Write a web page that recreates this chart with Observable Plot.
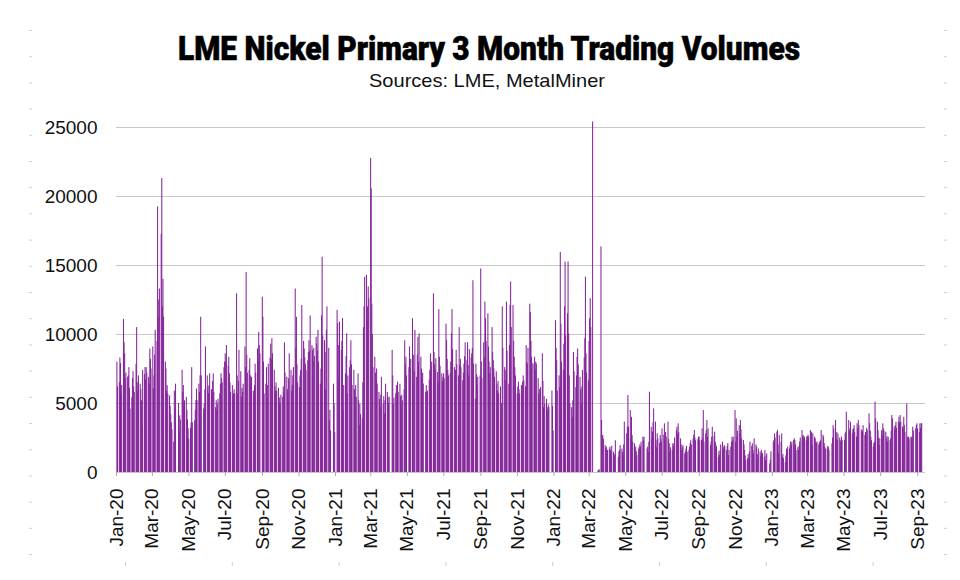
<!DOCTYPE html>
<html>
<head>
<meta charset="utf-8">
<script src="https://cdn.jsdelivr.net/npm/d3@7"></script>
<script src="https://cdn.jsdelivr.net/npm/@observablehq/plot@0.6"></script>
<style>
  html, body { margin: 0; padding: 0; background: #fff; }
  body { width: 960px; height: 580px; overflow: hidden; position: relative; font-family: "Liberation Sans", Arial, sans-serif; }
  #deco { position: absolute; left: 0; top: 0; }
  #chart { position: absolute; left: 0; top: 100px; }
</style>
</head>
<body>
<svg id="deco" width="960" height="580"></svg>
<div id="chart"></div>
<script>
// ---- Data: daily LME nickel 3M volumes (lots), one array per month ----
const vol2020 = [
  [8000, 6200, 6500, 8300, 7900, 5700, 6300, 11100, 9400, 8600, 6800, 7200, 6900, 7000, 7600, 6100, 4600, 5400, 6800, 7300, 6200, 5800],
  [7850, 10500, 6500, 5900, 7000, 6400, 6000, 5200, 3300, 7400, 7100, 7600, 6700, 7600, 7200, 6900, 6400, 8950, 8200, 7500],
  [9100, 6050, 7000, 8500, 10300, 9500, 19250, 11250, 12500, 13300, 17250, 21300, 12000, 14000, 11250, 8000, 7500, 5900, 6300, 5700, 5550, 4800],
  [4200, 3600, 3100, 2200, 5900, 4700, 6400, 5000, 3000, 4100, 3800, 7400, 5800, 6300, 4900, 5200, 5450, 4500, 3800, 3150],
  [2400, 3200, 3600, 7600, 3600, 3750, 4500, 5200, 6050, 5200, 6400, 5800, 7000, 11250, 7000, 4600, 4950, 6000, 9100],
  [7000, 6200, 5700, 6300, 7150, 6000, 5700, 6600, 7150, 5800, 4700, 5200, 4500, 4950, 5300, 5700, 6400, 7150, 6800, 6500, 7600, 8000],
  [8600, 8000, 9200, 7700, 8350, 7150, 6500, 5800, 6300, 5550, 5700, 6000, 5700, 12950, 7000, 5700, 6600, 8850, 7300, 5450, 6100, 5800, 6400],
  [9100, 7600, 14500, 8500, 7200, 7400, 8250, 7000, 6400, 6900, 5900, 5450, 6300, 7850, 7200, 8950, 8000, 10150, 9200, 8600],
  [12700, 11250, 8000, 5700, 6400, 7600, 5450, 6300, 7850, 8300, 9300, 8200, 9700, 8600, 7400, 6200, 5900, 6500, 5900, 6100, 5000, 5400],
  [4950, 5600, 5450, 6200, 5800, 9400, 7200, 6900, 6000, 5200, 6800, 8600, 7400, 5900, 6300, 7000, 7600, 13300, 9000, 11250, 7800, 6500],
  [6150, 7000, 7400, 8200, 12100, 9500, 8950, 8300, 7850, 7400, 8100, 8700, 9550, 8800, 11350, 9200, 8850, 8000, 9000, 8400, 9800],
  [9300, 8800, 10300, 8000, 6400, 7500, 11350, 15600, 9900, 9550, 8700, 6000, 10300, 12000, 9000, 3750, 4500, 3000, 6400, 5000, 2900]
];
const vol2021 = [
  [11750, 10800, 9200, 6650, 10900, 8850, 9500, 11150, 4500, 6300, 7150, 8400, 10050, 5700, 7000, 7600, 8100, 9550, 7800, 6300],
  [7400, 6000, 5450, 6300, 5450, 7150, 5200, 3400, 4950, 4200, 3900, 6500, 10500, 12000, 14150, 14300, 11000, 12000, 13450, 12600],
  [22750, 20550, 12200, 10000, 7600, 8350, 7200, 6650, 7500, 6400, 5800, 5300, 4700, 5600, 6900, 4950, 5500, 4250, 5200, 6400, 5800, 5450, 5000],
  [5450, 8850, 7000, 4950, 5400, 5700, 6300, 5900, 6550, 5800, 6400, 5500, 4950, 5600, 5200, 6000, 9550, 7800, 8350, 7000],
  [7600, 9100, 7500, 8200, 11150, 6400, 8500, 7300, 10300, 6900, 8500, 9800, 8000, 10050, 8350, 7500, 6800, 7200, 6400],
  [5800, 6300, 5800, 5900, 6700, 7400, 8600, 7600, 8000, 12950, 8700, 7800, 7400, 8250, 7250, 6500, 11800, 8350, 7700, 7150, 6600, 6900],
  [7150, 6800, 10750, 9550, 8200, 7400, 7000, 7150, 8000, 10050, 11800, 8900, 7600, 6900, 7400, 8850, 7800, 7000, 10500, 7750, 8200, 7600],
  [6650, 7200, 7850, 8400, 9400, 8100, 9400, 7750, 7000, 8900, 8300, 8600, 9000, 13900, 7850, 5300, 7850, 7100, 6300, 6900, 7000],
  [14750, 8000, 6800, 9400, 8300, 12350, 11150, 9500, 11500, 9100, 8000, 7150, 7600, 10500, 8700, 8100, 7500, 6900, 7300, 6400, 5900, 6600],
  [5700, 6200, 3650, 5000, 12000, 9000, 7600, 6650, 7400, 12350, 8800, 6400, 9200, 12100, 13800, 10500, 12100, 9500, 8350, 7600, 7000],
  [5700, 6200, 6550, 6000, 5700, 6300, 5900, 6550, 7000, 6650, 6200, 9200, 8000, 7850, 9000, 12200, 11600, 9500, 8350, 7900, 7850, 8350],
  [7400, 8000, 7850, 6800, 5700, 6000, 5200, 6150, 8600, 6600, 4700, 5500, 4950, 5300, 4700, 4500, 4900, 4700, 5900, 4800, 3000]
];
const vol2022 = [
  [11000, 9000, 8100, 5900, 7000, 6150, 15950, 10750, 8000, 7400, 9300, 12000, 15250, 9900, 11500, 15250, 10050, 7000, 4950, 4700],
  [4000, 5200, 8700, 7300, 6150, 7000, 8350, 8950, 7800, 6900, 6000, 4950, 6200, 7400, 8300, 9700, 14150, 8600, 7200, 6650],
  [9500, 11150, 12600, 10500, 25400, 0, 0, 0, 0, 0, 0, 120, 150, 200, 16350, 3770, 2680, 2650, 2400, 1950, 1700, 1840, 1600],
  [1600, 1700, 1840, 1600, 1470, 1900, 1470, 1100, 1300, 2300, 1100, 1500, 1600, 1950, 1700, 1470, 1200, 2000, 3650],
  [2800, 3300, 5580, 3280, 4490, 2440, 4000, 2680, 2200, 2080, 1600, 1840, 1500, 1230, 1700, 1840, 2000, 1840, 2200, 2560, 2300],
  [2560, 1700, 1840, 1470, 2200, 5820, 3280, 2440, 2920, 3600, 4610, 3650, 2300, 1800, 2800, 2440, 2100, 2680, 2400, 2200],
  [3160, 2700, 3530, 2300, 2900, 2560, 3650, 2400, 2080, 1470, 1800, 1600, 2080, 1900, 2080, 2500, 3040, 3280, 2800, 3530, 2900],
  [2440, 2000, 1600, 1800, 1950, 1350, 1500, 1700, 1900, 1470, 1600, 1840, 2100, 2300, 2000, 2440, 2700, 3040, 2500, 2300, 2400, 2560],
  [2560, 2300, 2320, 3160, 2440, 4490, 2200, 2800, 3040, 3770, 2560, 3160, 1950, 2200, 2560, 3280, 2600, 2920, 2200, 2000, 1840],
  [1100, 1500, 1230, 1600, 2000, 2200, 1840, 1700, 1950, 1840, 1600, 1900, 2100, 1230, 1600, 1840, 2200, 2560, 2300, 2560, 4490],
  [2200, 3890, 2560, 3000, 3400, 2800, 3770, 3100, 2440, 2320, 2000, 1600, 1200, 870, 990, 1300, 990, 1500, 2200, 1900, 2080, 1600],
  [1350, 2440, 2000, 1840, 990, 1300, 1700, 1470, 1200, 1600, 1400, 1350, 1100, 1600, 870, 1200, 1350, 630, 900, 1500]
];
const vol2023 = [
  [2200, 2320, 2800, 2500, 2920, 3040, 2000, 1350, 2680, 2200, 2800, 1100, 1300, 1000, 750, 1200, 1700, 1500, 1840, 1700, 1950],
  [2200, 2000, 2200, 2300, 2440, 2320, 2000, 1600, 1800, 1600, 1900, 2200, 2500, 3040, 2600, 2680, 2400, 2560, 2300, 2600],
  [2560, 2700, 2560, 3040, 2800, 2920, 1950, 2800, 2560, 2440, 2200, 2080, 2200, 2000, 2200, 2080, 2300, 3040, 2700, 2560, 2100, 1840, 1700],
  [1700, 1900, 1800, 1600, 2080, 2500, 3400, 3160, 3770, 2440, 2900, 2320, 2800, 2500, 2200, 2320, 2560, 2320],
  [2320, 2800, 2920, 4370, 3770, 3000, 3160, 3650, 2800, 3100, 3160, 3400, 2900, 2560, 3530, 3200, 3770, 3400, 3100, 2900],
  [3000, 3400, 2680, 2900, 2560, 3200, 3040, 4250, 3530, 3000, 2560, 2300, 1840, 2100, 2200, 5100, 3900, 3650, 3040, 2500, 1950, 2440],
  [3040, 2700, 3530, 3160, 3000, 2920, 2440, 2600, 2200, 2560, 2300, 2440, 3000, 4130, 3890, 3300, 3040, 3400, 3650, 3200, 3650],
  [4010, 3600, 4130, 3650, 3300, 3160, 4000, 3400, 2900, 4970, 2560, 1840, 2560, 2440, 2560, 2500, 2560, 3280, 3000, 3160, 3400, 3530],
  [3160, 2900, 3530, 3200, 3530, 3530]
];
// LME (UK bank holiday) closures — no trading on these weekdays
const holidays = [
  "2020-01-01", "2020-04-10", "2020-04-13", "2020-05-08", "2020-05-25", "2020-08-31", "2020-12-25", "2020-12-28",
  "2021-01-01", "2021-04-02", "2021-04-05", "2021-05-03", "2021-05-31", "2021-08-30", "2021-12-27", "2021-12-28",
  "2022-01-03", "2022-04-15", "2022-04-18", "2022-05-02", "2022-06-02", "2022-06-03", "2022-08-29", "2022-09-19", "2022-12-26", "2022-12-27",
  "2023-01-02", "2023-04-07", "2023-04-10", "2023-05-01", "2023-05-08", "2023-05-29", "2023-08-28"
];
const yTicks = [0, 5000, 10000, 15000, 20000, 25000];
const titleText = "LME Nickel Primary 3 Month Trading Volumes";
const subtitleText = "Sources: LME, MetalMiner";

// ---- Build the daily table ----
const fmtDay = d3.utcFormat("%Y-%m-%d");
const holidaySet = new Set(holidays);
const years = [[2020, vol2020], [2021, vol2021], [2022, vol2022], [2023, vol2023]];
const rows = [];
for (const [yr, months] of years) {
  months.forEach((vals, m) => {
    const days = d3.utcDays(new Date(Date.UTC(yr, m, 1)), new Date(Date.UTC(yr, m + 1, 1)))
      .filter(d => d.getUTCDay() % 6 !== 0 && !holidaySet.has(fmtDay(d)));
    if (vals.length > days.length) console.warn("too many values", yr, m + 1, vals.length, days.length);
    vals.forEach((v, i) => { if (i < days.length) rows.push({date: days[i], volume: v}); });
  });
}
const xTicks = d3.utcMonth.every(2).range(new Date(Date.UTC(2020, 0, 1)), new Date(Date.UTC(2023, 9, 1)));

// ---- Decorations: title, subtitle, faint slide-edge marks ----
const deco = d3.select("#deco");
deco.append("text").attr("x", 489).attr("y", 60).attr("text-anchor", "middle")
  .attr("font-family", "Roboto, 'Liberation Sans', sans-serif").attr("font-weight", 900).attr("font-size", 33)
  .attr("textLength", 622).attr("lengthAdjust", "spacingAndGlyphs").attr("fill", "#000")
  .attr("stroke", "#000").attr("stroke-width", 0.6).text(titleText);
deco.append("text").attr("x", 487).attr("y", 87).attr("text-anchor", "middle")
  .attr("font-family", "'Liberation Sans', Arial, sans-serif").attr("font-size", 19)
  .attr("textLength", 236).attr("lengthAdjust", "spacingAndGlyphs").attr("fill", "#111").text(subtitleText);
for (let k = 0; k <= 20; k++) {
  const y = 30 + k * 26.2;
  deco.append("rect").attr("x", 29).attr("y", y).attr("width", 3).attr("height", 1).attr("fill", "#cfcfcf");
  deco.append("rect").attr("x", 944).attr("y", y).attr("width", 3).attr("height", 1).attr("fill", "#cfcfcf");
}
for (let k = 0; k < 8; k++) {
  deco.append("rect").attr("x", 125 + k * 106.8).attr("y", 562).attr("width", 1).attr("height", 4).attr("fill", "#cfcfcf");
}

// ---- Chart ----
const chart = Plot.plot({
  width: 960,
  height: 480,
  marginLeft: 116,
  marginRight: 35,
  marginTop: 27,
  marginBottom: 108,
  style: {fontFamily: "'Liberation Sans', Arial, sans-serif", fontSize: "19px", color: "#111", background: "transparent"},
  x: {type: "utc", domain: [new Date(Date.UTC(2020, 0, 1)), new Date(Date.UTC(2023, 8, 14))], label: null},
  y: {domain: [0, 25000], label: null},
  marks: [
    Plot.gridY(yTicks, {stroke: "#c8c8c8", strokeOpacity: 1}),
    Plot.rectY(rows, {
      x1: "date",
      x2: d => d3.utcDay.offset(d.date, 1),
      y: "volume",
      fill: "#84269a",
      insetLeft: -0.22,
      insetRight: -0.22
    }),
    Plot.axisY(yTicks, {tickSize: 0, tickPadding: 19, tickFormat: d => String(d), fontSize: 19, label: null}),
    Plot.axisX(xTicks, {tickFormat: d3.utcFormat("%b-%y"), tickRotate: -90, tickSize: 4, tickPadding: 12,
      stroke: "#aaa", fontSize: 19, label: null})
  ]
});
document.getElementById("chart").appendChild(chart);
</script>
</body>
</html>
